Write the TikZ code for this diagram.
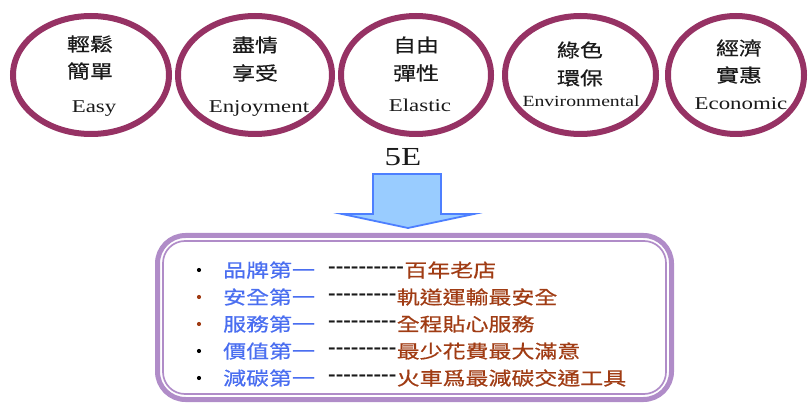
\documentclass[tikz,border=0pt]{standalone}
\usepackage{fontspec}
\setmainfont{Liberation Serif}[FakeStretch=1.27]
\newfontfamily\cjk{Noto Sans CJK TC}[FakeStretch=1.24,FakeBold=0.6]
\newfontfamily\dashfont{Liberation Sans}[FakeStretch=1.3]
\usetikzlibrary{shapes.geometric}
\definecolor{ringc}{HTML}{963264}
\definecolor{lav}{HTML}{B08CC8}
\definecolor{bluet}{HTML}{4A6EF0}
\definecolor{brownt}{HTML}{A03C14}
\definecolor{arrfill}{HTML}{99CCFF}
\definecolor{arrline}{HTML}{4D7FFF}
\definecolor{darkt}{HTML}{1A1A1A}
\tikzset{
  ering/.style={ellipse, draw=ringc, line width=6pt, inner sep=0pt},
  cjkt/.style={inner sep=0pt, text=darkt, font=\cjk\fontsize{18.5}{20}\selectfont},
  ent/.style={inner sep=0pt, anchor=base, text=darkt, font=\fontsize{18}{20}\selectfont},
  bluel/.style={inner sep=0pt, anchor=west, text=bluet, font=\cjk\fontsize{18.5}{20}\selectfont},
  brownl/.style={inner sep=0pt, anchor=west, text=brownt, font=\cjk\fontsize{18.5}{20}\selectfont},
  dashl/.style={inner sep=0pt, anchor=west, text=darkt, font=\dashfont\fontsize{17.5}{20}\selectfont},
  bul/.style={circle, inner sep=0pt, minimum size=4.2pt},
  arrowshape/.style={fill=arrfill, draw=arrline, line width=1.8pt, line join=miter},
}
\begin{document}
\begin{tikzpicture}[x=1pt,y=-1pt]
\useasboundingbox (0,0) rectangle (808,403);
% ellipses
\node[ering, minimum width=156pt, minimum height=118pt] (e1) at (91,75) {};
\node[ering, minimum width=154pt, minimum height=118pt] (e2) at (255,75) {};
\node[ering, minimum width=150pt, minimum height=118pt] (e3) at (416,75) {};
\node[ering, minimum width=151pt, minimum height=118pt] (e4) at (580.5,75) {};
\node[ering, minimum width=136pt, minimum height=118pt] (e5) at (736,75) {};
% ellipse texts
\node[cjkt] (t1a) at (90,44) {輕鬆};
\node[cjkt] (t1b) at (90,71) {簡單};
\node[ent] (t1c) at (94,113) {Easy};
\node[cjkt] (t2a) at (255,45) {盡情};
\node[cjkt] (t2b) at (255,73) {享受};
\node[ent] (t2c) at (259,113) {Enjoyment};
\node[cjkt] (t3a) at (416,45) {自由};
\node[cjkt] (t3b) at (416,73) {彈性};
\node[ent] (t3c) at (420,112) {Elastic};
\node[cjkt] (t4a) at (580,50) {綠色};
\node[cjkt] (t4b) at (580,78) {環保};
\node[ent, font=\fontsize{15.5}{18}\selectfont] (t4c) at (581,107) {Environmental};
\node[cjkt] (t5a) at (739,48) {經濟};
\node[cjkt] (t5b) at (739,75) {實惠};
\node[ent] (t5c) at (741,110) {Economic};
% 5E and arrow
\node[ent, font=\fontsize{26}{28}\selectfont] (fiveE) at (403,166) {5E};
\draw[arrowshape] (373,174) -- (441,174) -- (441,214) -- (474,214) -- (408,228) -- (342,214) -- (373,214) -- cycle;
% box
\draw[lav, line width=5pt, rounded corners=28pt] (157.5,235.5) rectangle (671.5,399.5);
\draw[lav, line width=1.7pt, rounded corners=22pt] (163,241) rectangle (666,394);
% list
\node[bul, fill=black] (b1) at (199,270) {};
\node[bul, fill=brownt] (b2) at (199,297) {};
\node[bul, fill=brownt] (b3) at (199,324) {};
\node[bul, fill=black] (b4) at (199,351) {};
\node[bul, fill=black] (b5) at (199,378) {};
\node[bluel] (l1) at (223,270) {品牌第一};
\node[bluel] (l2) at (223,297) {安全第一};
\node[bluel] (l3) at (223,324) {服務第一};
\node[bluel] (l4) at (223,351) {價值第一};
\node[bluel] (l5) at (223,378) {減碳第一};
\node[dashl] (d1) at (328,270) {\textbf{----------}};
\node[dashl] (d2) at (328,297) {\textbf{---------}};
\node[dashl] (d3) at (328,324) {\textbf{---------}};
\node[dashl] (d4) at (328,351) {\textbf{---------}};
\node[dashl] (d5) at (328,378) {\textbf{---------}};
\node[brownl] (r1) at (d1.east) {百年老店};
\node[brownl] (r2) at (d2.east) {軌道運輸最安全};
\node[brownl] (r3) at (d3.east) {全程貼心服務};
\node[brownl] (r4) at (d4.east) {最少花費最大滿意};
\node[brownl] (r5) at (d5.east) {火車爲最減碳交通工具};
\end{tikzpicture}
\end{document}
